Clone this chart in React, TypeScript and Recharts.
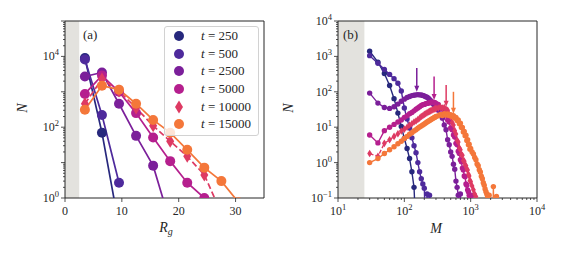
import React from 'react';
import { LineChart, Line, XAxis, YAxis, ReferenceArea, ReferenceLine } from 'recharts';

const FONT = '"Liberation Serif", "DejaVu Serif", serif';
const INK = '#262626';

const times = [250, 500, 2500, 5000, 10000, 15000];
const colors = ['#27287d', '#4e2a9c', '#7b1f9a', '#b51f8e', '#de3a63', '#f4773a'];

// (a) number of clusters per Rg bin
const rgBins = [3.5, 6.5, 9.5, 12.5, 15.5, 18.5, 21.5, 24.5, 27.5, 30.5];
const rgN250 = [9000, 70, 0.16];
const rgN500 = [8200, 220, 2.7];
const rgN2500 = [2700, 3500, 460, 57, 8.2, 0.2];
const rgN5000 = [870, 2900, 1000, 250, 51, 11, 2.7, 1.0];
const rgN10000 = [460, 2300, 1050, 350, 110, 40, 15, 4.5, 0.37];
const rgN15000 = [310, 1480, 1150, 460, 160, 70, 23, 7.2, 3.0, 0.76];
const rgTicks = [0, 10, 20, 30];

// (b) number of clusters per mass bin
const mGrid = [
  30, 40, 50, 60, 70, 80, 90, 100, 110, 120, 130, 140, 150, 160, 170, 180, 190, 200, 210, 220,
  230, 240, 250, 260, 270, 280, 290, 300,
  325, 350, 375, 400, 425, 450, 475, 500, 525, 550, 575, 600, 625, 650, 675, 700, 725, 750, 775,
  800, 825, 850, 875, 900, 925, 950, 975, 1000,
  1050, 1100, 1150, 1200, 1250, 1300, 1350, 1400, 1450, 1500, 1550, 1600, 1650, 1700, 1750, 1800,
  1850, 1900, 1950, 2000, 2050, 2100, 2150, 2200, 2250, 2300, 2350, 2400, 2450, 2500, 2550, 2600,
];
const mN250 = [1400, 690, 330, 150, 64, 25, 10.5, 4.8, 2.5, 1.3, 0.55, 0.2, 0.01];
const mN500 = [1050, 640, 430, 310, 235, 175, 105, 35, 17, 9.5, 5, 3, 1.9, 1.0, 0.55, 0.35, 0.25, 0.19, 0.01, 0.13, 0.01, 0.12, 0.01];
const mN2500 = [
  92, 48, 36, 34, 38, 45, 54, 62, 69, 74, 78, 80, 82, 83, 82, 81, 79, 76, 73, 70, 66, 61, 56, 51, 47, 43, 39, 35,
  30, 22, 18, 11.5, 8.5, 4.4, 3.2, 2.0, 1.5, 0.9, 0.65, 0.3, 0.2, 0.12, 0.01, 0.13, 0.01,
];
const mN5000 = [
  6, 3.6, 8, 10, 12, 14, 16, 19, 21, 24, 26, 29, 32, 35, 38, 41, 43, 44, 46, 47, 48, 49, 50, 51, 51, 50, 49, 47,
  44, 36, 32, 25, 22, 16, 14, 9.5, 8.5, 6, 5.3, 3.5, 3.2, 2.1, 1.8, 1.2, 1.05, 0.7, 0.62, 0.42, 0.4, 0.25, 0.23,
  0.17, 0.15, 0.12, 0.11, 0.01, 0.12, 0.01,
];
const mN10000 = [
  1.8, 1.5, 3.5, 4.4, 5.5, 6.5, 7.8, 8.8, 10, 11.5, 12.5, 14, 15, 16.5, 18, 20, 21, 23, 24, 25.5, 27, 28, 29, 30,
  31, 32, 33, 34,
  35, 37, 35, 36, 32, 30, 23, 20, 13.5, 11.5, 8, 6.4, 4.2, 3.8, 2.6, 2.3, 1.7, 1.6, 1.15, 1.1, 0.85, 0.82, 0.66,
  0.62, 0.47, 0.42, 0.31, 0.29,
  0.22, 0.17, 0.13, 0.11, 0.01,
];
const mN15000 = [
  1.0, 1.3, 1.8, 2.3, 2.8, 3.4, 4.0, 4.8, 5.5, 6.3, 7.0, 7.8, 8.5, 9.3, 10.1, 10.8, 11.6, 12.4, 13.2, 14, 14.8,
  15.5, 16.3, 17, 17.8, 18.5, 19.2, 20,
  21, 23, 21.5, 24, 22, 23.5, 21.5, 22.5, 20, 21, 18, 19, 15.5, 16, 12.5, 13, 9.8, 9.8, 7.3, 7.6, 5.7, 5.9, 4.2,
  4.4, 3.2, 3.3, 2.4, 2.5,
  2.0, 1.75, 1.4, 1.2, 0.92, 0.82, 0.63, 0.54, 0.41, 0.35, 0.27, 0.23, 0.18, 0.15, 0.13, 0.11, 0.01, 0.12, 0.01,
  0.01, 0.01, 0.01, 0.01, 0.21, 0.01, 0.01, 0.01, 0.01, 0.11, 0.01, 0.01, 0.01,
];

// arrows marking the peak of each late-time distribution
const arrowM = [154, 281, 427, 550];
const arrowTop = [470, 270, 155, 100];
const arrowTip = [100, 59, 38, 24];
const arrowColor = [colors[2], colors[3], colors[4], colors[5]];

const rgSeries = [rgN250, rgN500, rgN2500, rgN5000, rgN10000, rgN15000];
const mSeries = [mN250, mN500, mN2500, mN5000, mN10000, mN15000];

function logTicks(lo: number, hi: number) {
  const out: number[] = [];
  for (let e = lo; e < hi; e++) for (let k = 1; k < 10; k++) out.push(k * Math.pow(10, e));
  out.push(Math.pow(10, hi));
  return out;
}

const sup = (e: number) => (e < 0 ? '\u2212' + -e : String(e));
const isDecade = (v: number) => {
  const lg = Math.log10(v);
  return Math.abs(lg - Math.round(lg)) < 1e-6;
};

const logYTick = (showLabel: (e: number) => boolean) => (props: any) => {
  const { x, y, payload } = props;
  const major = isDecade(payload.value);
  const e = Math.round(Math.log10(payload.value));
  return (
    <g>
      <line x1={x - (major ? 4 : 2)} x2={x} y1={y} y2={y} stroke={INK} strokeWidth={0.8} />
      {major && showLabel(e) ? (
        <text x={x - 6} y={y + 4} textAnchor="end" fontSize={12} fontFamily={FONT} fill={INK}>
          10<tspan dy={-5} fontSize={8.5}>{sup(e)}</tspan>
        </text>
      ) : null}
    </g>
  );
};

const logXTick = (props: any) => {
  const { x, y, payload } = props;
  const major = isDecade(payload.value);
  const e = Math.round(Math.log10(payload.value));
  return (
    <g>
      <line x1={x} x2={x} y1={y} y2={y + (major ? 4 : 2)} stroke={INK} strokeWidth={0.8} />
      {major ? (
        <text x={x} y={y + 17} textAnchor="middle" fontSize={12} fontFamily={FONT} fill={INK}>
          10<tspan dy={-5} fontSize={8.5}>{sup(e)}</tspan>
        </text>
      ) : null}
    </g>
  );
};

const linXTick = (props: any) => {
  const { x, y, payload } = props;
  return (
    <g>
      <line x1={x} x2={x} y1={y} y2={y + 4} stroke={INK} strokeWidth={0.8} />
      <text x={x} y={y + 17} textAnchor="middle" fontSize={12} fontFamily={FONT} fill={INK}>
        {payload.value}
      </text>
    </g>
  );
};

const diamond = (color: string, w: number, h: number) => (props: any) => {
  const { cx, cy, index } = props;
  if (cx == null || cy == null) return <g key={index} />;
  return (
    <path
      key={index}
      d={`M${cx},${cy - h} L${cx + w},${cy} L${cx},${cy + h} L${cx - w},${cy} Z`}
      fill={color}
    />
  );
};

const arrowShape = (color: string) => (props: any) => {
  const { x1, y1, x2, y2 } = props;
  const top = Math.min(y1, y2);
  const tip = Math.max(y1, y2);
  return (
    <g>
      <line x1={x1} x2={x2} y1={top} y2={tip - 4} stroke={color} strokeWidth={1.5} />
      <path d={`M${x1 - 2.5},${tip - 6} L${x1 + 2.5},${tip - 6} L${x1},${tip} Z`} fill={color} />
    </g>
  );
};

const label: React.CSSProperties = {
  position: 'absolute',
  fontFamily: FONT,
  color: INK,
  lineHeight: 1,
  whiteSpace: 'nowrap',
};

function PanelA() {
  return (
    <LineChart width={281} height={256} margin={{ top: 21, right: 17, bottom: 0, left: 0 }}>
      <XAxis
        type="number"
        dataKey="x"
        domain={[0, 35]}
        ticks={rgTicks}
        allowDataOverflow
        height={58}
        axisLine={false}
        tickLine={false}
        tickSize={0}
        tickMargin={0}
        interval={0}
        tick={linXTick}
      />
      <YAxis
        type="number"
        scale="log"
        domain={[1, 1e5]}
        ticks={logTicks(0, 5)}
        allowDataOverflow
        width={65}
        axisLine={false}
        tickLine={false}
        tickSize={0}
        tickMargin={0}
        interval={0}
        tick={logYTick((e) => e % 2 === 0)}
      />
      <ReferenceArea x1={0} x2={2.5} y1={1} y2={1e5} fill="#e3e2de" fillOpacity={1} stroke="none" />
      {rgSeries.map((ys, i) => (
        <Line
          key={times[i]}
          data={ys.map((n, j) => ({ x: rgBins[j], y: n }))}
          dataKey="y"
          type="linear"
          stroke={colors[i]}
          strokeWidth={1.7}
          strokeDasharray={i === 4 ? '6 3' : undefined}
          dot={i === 4 ? diamond(colors[i], 4, 6.5) : { r: 5, fill: colors[i], stroke: colors[i], strokeWidth: 0 }}
          isAnimationActive={false}
        />
      ))}
      <ReferenceArea x1={0} x2={35} y1={1} y2={1e5} fill="none" stroke={INK} strokeWidth={1} />
    </LineChart>
  );
}

function PanelB() {
  return (
    <LineChart width={281} height={256} margin={{ top: 21, right: 25, bottom: 0, left: 0 }}>
      <XAxis
        type="number"
        dataKey="x"
        scale="log"
        domain={[10, 1e4]}
        ticks={logTicks(1, 4)}
        allowDataOverflow
        height={58}
        axisLine={false}
        tickLine={false}
        tickSize={0}
        tickMargin={0}
        interval={0}
        tick={logXTick}
      />
      <YAxis
        type="number"
        scale="log"
        domain={[0.1, 1e4]}
        ticks={logTicks(-1, 4)}
        allowDataOverflow
        width={57}
        axisLine={false}
        tickLine={false}
        tickSize={0}
        tickMargin={0}
        interval={0}
        tick={logYTick(() => true)}
      />
      <ReferenceArea x1={10} x2={25} y1={0.1} y2={1e4} fill="#e3e2de" fillOpacity={1} stroke="none" />
      {mSeries.map((ys, i) => (
        <Line
          key={times[i]}
          data={ys.map((n, j) => ({ x: mGrid[j], y: n }))}
          dataKey="y"
          type="linear"
          stroke={colors[i]}
          strokeWidth={1.4}
          strokeDasharray={i === 4 ? '4 2' : undefined}
          dot={i === 4 ? diamond(colors[i], 2.4, 3.8) : { r: 2.7, fill: colors[i], stroke: colors[i], strokeWidth: 0 }}
          isAnimationActive={false}
        />
      ))}
      {arrowM.map((m, i) => (
        <ReferenceLine
          key={m}
          segment={[
            { x: m, y: arrowTop[i] },
            { x: m, y: arrowTip[i] },
          ]}
          stroke={arrowColor[i]}
          shape={arrowShape(arrowColor[i])}
        />
      ))}
      <ReferenceArea x1={10} x2={1e4} y1={0.1} y2={1e4} fill="none" stroke={INK} strokeWidth={1} />
    </LineChart>
  );
}

function LegendBox() {
  return (
    <div
      style={{
        position: 'absolute',
        left: 164,
        top: 26,
        width: 95,
        height: 110,
        boxSizing: 'border-box',
        background: 'rgba(255,255,255,0.8)',
        border: '1px solid #d2d2d2',
        borderRadius: 3,
      }}
    >
      {times.map((t, i) => (
        <div
          key={t}
          style={{ position: 'absolute', left: 0, top: i * 17.7, height: 17.7, display: 'flex', alignItems: 'center' }}
        >
          <svg width={28} height={16}>
            {i === 4 ? (
              <path d="M14,1.5 L18,8 L14,14.5 L10,8 Z" fill={colors[i]} />
            ) : (
              <circle cx={14} cy={8} r={5} fill={colors[i]} />
            )}
          </svg>
          <span style={{ fontFamily: FONT, fontSize: 13, color: INK, marginLeft: 8, whiteSpace: 'nowrap' }}>
            <i>t</i> = {t}
          </span>
        </div>
      ))}
    </div>
  );
}

export default function App() {
  return (
    <div style={{ position: 'fixed', left: 0, top: 0, width: 562, height: 256, background: '#fff' }}>
      <div style={{ position: 'absolute', left: 0, top: 0 }}>
        <PanelA />
      </div>
      <div style={{ position: 'absolute', left: 281, top: 0 }}>
        <PanelB />
      </div>
      <LegendBox />
      <div style={{ ...label, left: 83, top: 28, fontSize: 13 }}>(a)</div>
      <div style={{ ...label, left: 343, top: 28, fontSize: 13 }}>(b)</div>
      <div style={{ ...label, left: 23, top: 108, fontSize: 14, fontStyle: 'italic', transform: 'translate(-50%,-50%) rotate(-90deg)' }}>
        N
      </div>
      <div style={{ ...label, left: 289, top: 108, fontSize: 14, fontStyle: 'italic', transform: 'translate(-50%,-50%) rotate(-90deg)' }}>
        N
      </div>
      <div style={{ ...label, left: 166, top: 229, fontSize: 14, fontStyle: 'italic', transform: 'translate(-50%,-50%)' }}>
        R<sub style={{ fontSize: 10 }}>g</sub>
      </div>
      <div style={{ ...label, left: 436, top: 229, fontSize: 14, fontStyle: 'italic', transform: 'translate(-50%,-50%)' }}>
        M
      </div>
    </div>
  );
}
